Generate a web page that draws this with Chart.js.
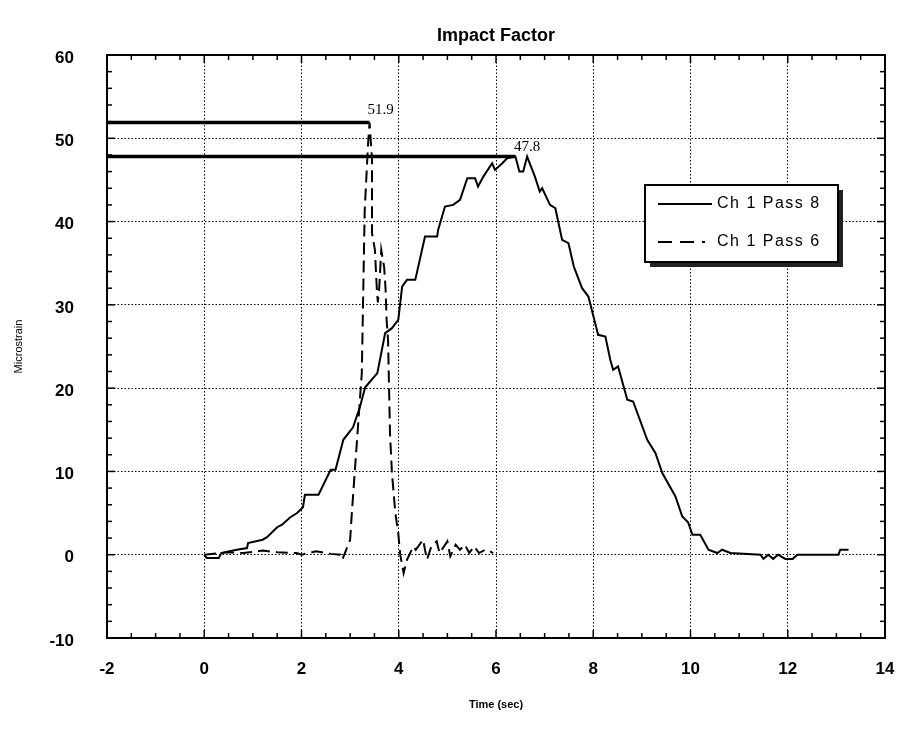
<!DOCTYPE html>
<html><head><meta charset="utf-8">
<script src="https://cdn.jsdelivr.net/npm/chart.js@4.4.1/dist/chart.umd.min.js"></script>
<style>html,body{margin:0;padding:0;background:#fff;}canvas{display:block;}</style>
</head><body>
<canvas id="c" width="897" height="740"></canvas>
<script>
// ---- data ----
const seriesLabels = ['Ch 1 Pass 8', 'Ch 1 Pass 6'];

const pass8Time = [0, 0.05, 0.3, 0.35, 0.5, 0.67, 0.88, 0.9, 1.2, 1.29, 1.5, 1.6, 1.77, 1.91, 2.03, 2.07, 2.35, 2.6, 2.7, 2.86, 3.06, 3.2, 3.31, 3.56, 3.72, 3.86, 3.99, 4.07, 4.17, 4.34, 4.54, 4.79, 4.81, 4.95, 5.12, 5.26, 5.41, 5.57, 5.63, 5.74, 5.92, 5.98, 6.13, 6.23, 6.4, 6.48, 6.56, 6.64, 6.8, 6.9, 6.95, 7.11, 7.22, 7.36, 7.49, 7.6, 7.77, 7.9, 8.04, 8.1, 8.25, 8.35, 8.41, 8.51, 8.7, 8.82, 9.11, 9.28, 9.42, 9.69, 9.83, 9.95, 10.04, 10.2, 10.37, 10.55, 10.65, 10.82, 11.44, 11.5, 11.6, 11.7, 11.8, 11.95, 12.1, 12.2, 13.04, 13.08, 13.25];
const pass8Strain = [0, -0.4, -0.4, 0.2, 0.4, 0.6, 0.8, 1.4, 1.8, 2.1, 3.3, 3.6, 4.5, 5.0, 5.7, 7.2, 7.2, 10.2, 10.2, 13.8, 15.3, 17.7, 20.1, 21.8, 26.6, 27.2, 28.2, 32.2, 33.0, 33.0, 38.2, 38.2, 39.0, 41.8, 42.0, 42.6, 45.2, 45.2, 44.2, 45.4, 47.0, 46.2, 47.0, 47.6, 47.8, 46.0, 46.0, 47.8, 45.4, 43.6, 44.0, 42.0, 41.6, 37.8, 37.4, 34.6, 32.0, 31.0, 27.8, 26.4, 26.2, 23.4, 22.2, 22.6, 18.6, 18.4, 13.8, 12.2, 9.8, 7.0, 4.6, 3.9, 2.4, 2.4, 0.6, 0.2, 0.6, 0.2, 0, -0.5, 0, -0.5, 0, -0.5, -0.5, 0, 0, 0.6, 0.6];

const pass6Time = [0, 0.5, 0.8, 1.2, 1.5, 1.9, 2.0, 2.3, 2.6, 2.8, 2.84, 3.0, 3.04, 3.24, 3.3, 3.37, 3.4, 3.45, 3.45, 3.51, 3.55, 3.57, 3.6, 3.64, 3.7, 3.73, 3.75, 3.78, 3.82, 3.86, 3.93, 3.99, 4.03, 4.1, 4.17, 4.3, 4.35, 4.5, 4.58, 4.67, 4.78, 4.84, 5.0, 5.06, 5.17, 5.26, 5.36, 5.45, 5.55, 5.65, 5.78, 5.88, 5.94];
const pass6Strain = [0, 0.3, 0.2, 0.5, 0.3, 0.2, 0, 0.4, 0.1, 0, -0.6, 1.8, 5.4, 21.8, 41.4, 49.4, 51.9, 47.4, 38.6, 36.6, 31.8, 30.3, 32.2, 36.6, 34.5, 31.8, 28.2, 25.8, 14.6, 9.8, 5.0, 2.6, 0, -2.2, -0.6, 1.0, 0.6, 1.8, -0.6, 1.0, 1.6, 0.2, 1.6, -0.2, 1.2, 0.6, 1.2, 0.2, 1.0, 0.2, 0.6, 0.4, 0.2];

const peakValues = [51.9, 47.8];
const peakTimes = [3.4, 6.64];
const peakLineEnds = [3.4, 6.4];

const xTickLabels = [-2, 0, 2, 4, 6, 8, 10, 12, 14];
const yTickLabels = [-10, 0, 10, 20, 30, 40, 50, 60];
const xMinorStep = 0.5;
const yMinorStep = 2;

// ---- build datasets ----
const toPts = (xs, ys) => xs.map((t, i) => ({x: t, y: ys[i]}));
const datasets = [
  {label: seriesLabels[0], data: toPts(pass8Time, pass8Strain), borderColor: '#000', borderWidth: 2, pointRadius: 0, tension: 0, fill: false},
  {label: seriesLabels[1], data: toPts(pass6Time, pass6Strain), borderColor: '#000', borderWidth: 2, borderDash: [12, 6], pointRadius: 0, tension: 0, fill: false}
];
peakValues.forEach((v, i) => {
  datasets.push({label: 'peak' + i, data: [{x: xTickLabels[0], y: v}, {x: peakLineEnds[i], y: v}], borderColor: '#000', borderWidth: 3.5, pointRadius: 0, fill: false});
});

const decorPlugin = {
  id: 'decor',
  afterDatasetsDraw(chart) {
    const ctx = chart.ctx;
    const xs = chart.scales.x, ys = chart.scales.y;
    const {left, right, top, bottom} = chart.chartArea;
    ctx.save();
    ctx.strokeStyle = '#000';
    ctx.lineWidth = 1.5;
    ctx.setLineDash([]);
    const seg = (a, b, c, d) => { ctx.beginPath(); ctx.moveTo(a, b); ctx.lineTo(c, d); ctx.stroke(); };
    const xStep = xTickLabels[1] - xTickLabels[0];
    for (let v = xs.min; v <= xs.max + 1e-9; v += xMinorStep) {
      const px = xs.getPixelForValue(v);
      const r = (v - xs.min) / xStep;
      const len = Math.abs(r - Math.round(r)) < 1e-6 ? 8 : 5;
      seg(px, bottom, px, bottom - len);
      seg(px, top, px, top + len);
    }
    const yStep = yTickLabels[1] - yTickLabels[0];
    for (let v = ys.min; v <= ys.max + 1e-9; v += yMinorStep) {
      const py = ys.getPixelForValue(v);
      const r = (v - ys.min) / yStep;
      const len = Math.abs(r - Math.round(r)) < 1e-6 ? 8 : 5;
      seg(left, py, left + len, py);
      seg(right, py, right - len, py);
    }
    ctx.lineWidth = 2;
    ctx.strokeRect(left, top, right - left, bottom - top);
    ctx.fillStyle = '#000';
    ctx.font = '15px "Liberation Serif", serif';
    ctx.textAlign = 'center';
    ctx.textBaseline = 'middle';
    const offs = [[11, -12], [0, -10]];
    peakValues.forEach((v, i) => {
      const px = xs.getPixelForValue(peakTimes[i]);
      const py = ys.getPixelForValue(v);
      ctx.fillText(v.toFixed(1), px + offs[i][0], py + offs[i][1]);
    });
    ctx.restore();
  },
  afterDraw(chart) {
    const ctx = chart.ctx;
    ctx.save();
    const lx = 645, ly = 185, lw = 193, lh = 77;
    ctx.fillStyle = '#222';
    ctx.fillRect(lx + 5, ly + 5, lw, lh);
    ctx.fillStyle = '#fff';
    ctx.fillRect(lx, ly, lw, lh);
    ctx.strokeStyle = '#000';
    ctx.lineWidth = 2;
    ctx.strokeRect(lx, ly, lw, lh);
    const rows = [204, 242];
    ctx.font = '16px "Liberation Sans", Arial, sans-serif';
    ctx.textAlign = 'left';
    ctx.textBaseline = 'middle';
    ctx.fillStyle = '#000';
    if ('letterSpacing' in ctx) ctx.letterSpacing = '1.5px';
    [0, 1].forEach(i => {
      const ds = chart.data.datasets[i];
      ctx.setLineDash(ds.borderDash ? [14, 8] : []);
      ctx.beginPath();
      ctx.moveTo(658, rows[i]);
      ctx.lineTo(i === 0 ? 712 : 705, rows[i]);
      ctx.stroke();
      ctx.setLineDash([]);
      ctx.fillText(ds.label, 717, rows[i]);
    });
    ctx.restore();
  }
};

new Chart(document.getElementById('c'), {
  type: 'line',
  data: {datasets},
  options: {
    responsive: false,
    animation: false,
    layout: {padding: {left: 0, right: 12, top: 0, bottom: 0}},
    plugins: {
      legend: {display: false},
      tooltip: {enabled: false},
      title: {
        display: true, text: 'Impact Factor', fullSize: false, color: '#000',
        font: {family: '"Liberation Sans", Arial, sans-serif', size: 18, weight: 'bold'},
        padding: {top: 25, bottom: 8.4}
      }
    },
    scales: {
      x: {
        type: 'linear', min: xTickLabels[0], max: xTickLabels[xTickLabels.length - 1],
        afterFit: s => { s.height = 102; s.paddingLeft = 0; s.paddingRight = 0; },
        ticks: {stepSize: xTickLabels[1] - xTickLabels[0], color: '#000', padding: 21, maxRotation: 0, autoSkip: false,
          font: {family: '"Liberation Sans", Arial, sans-serif', size: 17, weight: 'bold'}},
        grid: {color: '#000', lineWidth: 1, drawTicks: false},
        border: {display: false, dash: [1.5, 2]},
        title: {display: true, text: 'Time (sec)', color: '#000', padding: {top: 0, bottom: 28},
          font: {family: '"Liberation Sans", Arial, sans-serif', size: 11, weight: 'bold'}}
      },
      y: {
        type: 'linear', min: yTickLabels[0], max: yTickLabels[yTickLabels.length - 1],
        afterFit: s => { s.width = 107; s.paddingTop = 0; s.paddingBottom = 0; },
        ticks: {stepSize: yTickLabels[1] - yTickLabels[0], color: '#000', padding: 33, labelOffset: 3,
          font: {family: '"Liberation Sans", Arial, sans-serif', size: 17, weight: 'bold'}},
        grid: {color: '#000', lineWidth: 1, drawTicks: false},
        border: {display: false, dash: [1.5, 2]},
        title: {display: true, text: 'Microstrain', color: '#000', padding: {top: 12, bottom: 0},
          font: {family: '"Liberation Sans", Arial, sans-serif', size: 11, weight: 'normal'}}
      }
    }
  },
  plugins: [decorPlugin]
});
</script>
</body></html>
